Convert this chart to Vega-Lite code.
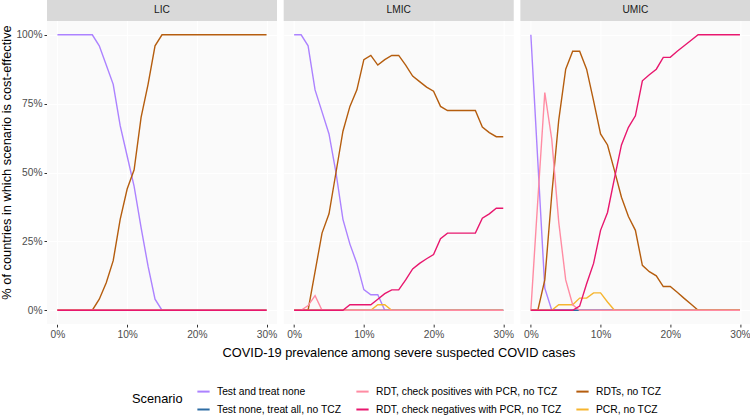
{
 "$schema": "https://vega.github.io/schema/vega-lite/v6.json",
 "padding": {"left": 0, "top": 0, "right": 0, "bottom": 0},
 "background": "white",
 "config": {
  "font": "Liberation Sans",
  "view": {"stroke": null},
  "axis": {"labelColor": "#4d4d4d", "labelFontSize": 10.2, "titleFontSize": 12.8, "titleColor": "#000000", "titleFontWeight": "normal", "tickColor": "#333333", "tickSize": 3, "labelPadding": 2, "domain": false, "gridColor": "#ffffff", "gridWidth": 1.1},
  "legend": {"labelFontSize": 10.3, "labelColor": "#000000", "labelLimit": 400, "titleFontSize": 12.8, "titleFontWeight": "normal", "titleColor": "#000000", "symbolType": "stroke", "symbolStrokeWidth": 2, "symbolSize": 150, "columnPadding": 10, "rowPadding": 5, "labelOffset": 6, "titlePadding": 13}
 },
 "data": {"values": [
   {"income":"LIC","scenario":"Test and treat none","prev":0,"share":1},
   {"income":"LIC","scenario":"Test and treat none","prev":0.05,"share":1},
   {"income":"LIC","scenario":"Test and treat none","prev":0.06,"share":0.96},
   {"income":"LIC","scenario":"Test and treat none","prev":0.07,"share":0.89},
   {"income":"LIC","scenario":"Test and treat none","prev":0.08,"share":0.82},
   {"income":"LIC","scenario":"Test and treat none","prev":0.09,"share":0.67},
   {"income":"LIC","scenario":"Test and treat none","prev":0.10,"share":0.56},
   {"income":"LIC","scenario":"Test and treat none","prev":0.11,"share":0.45},
   {"income":"LIC","scenario":"Test and treat none","prev":0.12,"share":0.30},
   {"income":"LIC","scenario":"Test and treat none","prev":0.13,"share":0.16},
   {"income":"LIC","scenario":"Test and treat none","prev":0.14,"share":0.04},
   {"income":"LIC","scenario":"Test and treat none","prev":0.15,"share":0},
   {"income":"LIC","scenario":"Test and treat none","prev":0.30,"share":0},
   {"income":"LIC","scenario":"Test none, treat all, no TCZ","prev":0,"share":0},
   {"income":"LIC","scenario":"Test none, treat all, no TCZ","prev":0.30,"share":0},
   {"income":"LIC","scenario":"RDTs, no TCZ","prev":0,"share":0},
   {"income":"LIC","scenario":"RDTs, no TCZ","prev":0.05,"share":0},
   {"income":"LIC","scenario":"RDTs, no TCZ","prev":0.06,"share":0.04},
   {"income":"LIC","scenario":"RDTs, no TCZ","prev":0.07,"share":0.10},
   {"income":"LIC","scenario":"RDTs, no TCZ","prev":0.08,"share":0.18},
   {"income":"LIC","scenario":"RDTs, no TCZ","prev":0.09,"share":0.33},
   {"income":"LIC","scenario":"RDTs, no TCZ","prev":0.10,"share":0.44},
   {"income":"LIC","scenario":"RDTs, no TCZ","prev":0.11,"share":0.51},
   {"income":"LIC","scenario":"RDTs, no TCZ","prev":0.12,"share":0.70},
   {"income":"LIC","scenario":"RDTs, no TCZ","prev":0.13,"share":0.82},
   {"income":"LIC","scenario":"RDTs, no TCZ","prev":0.14,"share":0.96},
   {"income":"LIC","scenario":"RDTs, no TCZ","prev":0.15,"share":1},
   {"income":"LIC","scenario":"RDTs, no TCZ","prev":0.30,"share":1},
   {"income":"LIC","scenario":"PCR, no TCZ","prev":0,"share":0},
   {"income":"LIC","scenario":"PCR, no TCZ","prev":0.30,"share":0},
   {"income":"LIC","scenario":"RDT, check positives with PCR, no TCZ","prev":0,"share":0},
   {"income":"LIC","scenario":"RDT, check positives with PCR, no TCZ","prev":0.30,"share":0},
   {"income":"LIC","scenario":"RDT, check negatives with PCR, no TCZ","prev":0,"share":0},
   {"income":"LIC","scenario":"RDT, check negatives with PCR, no TCZ","prev":0.30,"share":0},

   {"income":"LMIC","scenario":"Test and treat none","prev":0,"share":1},
   {"income":"LMIC","scenario":"Test and treat none","prev":0.01,"share":1},
   {"income":"LMIC","scenario":"Test and treat none","prev":0.02,"share":0.96},
   {"income":"LMIC","scenario":"Test and treat none","prev":0.03,"share":0.80},
   {"income":"LMIC","scenario":"Test and treat none","prev":0.04,"share":0.72},
   {"income":"LMIC","scenario":"Test and treat none","prev":0.05,"share":0.64},
   {"income":"LMIC","scenario":"Test and treat none","prev":0.06,"share":0.50},
   {"income":"LMIC","scenario":"Test and treat none","prev":0.07,"share":0.33},
   {"income":"LMIC","scenario":"Test and treat none","prev":0.08,"share":0.24},
   {"income":"LMIC","scenario":"Test and treat none","prev":0.09,"share":0.17},
   {"income":"LMIC","scenario":"Test and treat none","prev":0.10,"share":0.075},
   {"income":"LMIC","scenario":"Test and treat none","prev":0.11,"share":0.056},
   {"income":"LMIC","scenario":"Test and treat none","prev":0.12,"share":0.056},
   {"income":"LMIC","scenario":"Test and treat none","prev":0.13,"share":0},
   {"income":"LMIC","scenario":"Test and treat none","prev":0.30,"share":0},
   {"income":"LMIC","scenario":"Test none, treat all, no TCZ","prev":0,"share":0},
   {"income":"LMIC","scenario":"Test none, treat all, no TCZ","prev":0.30,"share":0},
   {"income":"LMIC","scenario":"RDTs, no TCZ","prev":0,"share":0},
   {"income":"LMIC","scenario":"RDTs, no TCZ","prev":0.02,"share":0},
   {"income":"LMIC","scenario":"RDTs, no TCZ","prev":0.03,"share":0.14},
   {"income":"LMIC","scenario":"RDTs, no TCZ","prev":0.04,"share":0.28},
   {"income":"LMIC","scenario":"RDTs, no TCZ","prev":0.05,"share":0.35},
   {"income":"LMIC","scenario":"RDTs, no TCZ","prev":0.06,"share":0.50},
   {"income":"LMIC","scenario":"RDTs, no TCZ","prev":0.07,"share":0.65},
   {"income":"LMIC","scenario":"RDTs, no TCZ","prev":0.08,"share":0.74},
   {"income":"LMIC","scenario":"RDTs, no TCZ","prev":0.09,"share":0.80},
   {"income":"LMIC","scenario":"RDTs, no TCZ","prev":0.10,"share":0.91},
   {"income":"LMIC","scenario":"RDTs, no TCZ","prev":0.11,"share":0.925},
   {"income":"LMIC","scenario":"RDTs, no TCZ","prev":0.12,"share":0.89},
   {"income":"LMIC","scenario":"RDTs, no TCZ","prev":0.13,"share":0.91},
   {"income":"LMIC","scenario":"RDTs, no TCZ","prev":0.14,"share":0.925},
   {"income":"LMIC","scenario":"RDTs, no TCZ","prev":0.15,"share":0.925},
   {"income":"LMIC","scenario":"RDTs, no TCZ","prev":0.16,"share":0.89},
   {"income":"LMIC","scenario":"RDTs, no TCZ","prev":0.17,"share":0.85},
   {"income":"LMIC","scenario":"RDTs, no TCZ","prev":0.18,"share":0.83},
   {"income":"LMIC","scenario":"RDTs, no TCZ","prev":0.19,"share":0.81},
   {"income":"LMIC","scenario":"RDTs, no TCZ","prev":0.20,"share":0.795},
   {"income":"LMIC","scenario":"RDTs, no TCZ","prev":0.21,"share":0.74},
   {"income":"LMIC","scenario":"RDTs, no TCZ","prev":0.22,"share":0.725},
   {"income":"LMIC","scenario":"RDTs, no TCZ","prev":0.26,"share":0.725},
   {"income":"LMIC","scenario":"RDTs, no TCZ","prev":0.27,"share":0.665},
   {"income":"LMIC","scenario":"RDTs, no TCZ","prev":0.28,"share":0.645},
   {"income":"LMIC","scenario":"RDTs, no TCZ","prev":0.29,"share":0.63},
   {"income":"LMIC","scenario":"RDTs, no TCZ","prev":0.30,"share":0.63},
   {"income":"LMIC","scenario":"PCR, no TCZ","prev":0,"share":0},
   {"income":"LMIC","scenario":"PCR, no TCZ","prev":0.11,"share":0},
   {"income":"LMIC","scenario":"PCR, no TCZ","prev":0.12,"share":0.02},
   {"income":"LMIC","scenario":"PCR, no TCZ","prev":0.13,"share":0.02},
   {"income":"LMIC","scenario":"PCR, no TCZ","prev":0.14,"share":0},
   {"income":"LMIC","scenario":"PCR, no TCZ","prev":0.30,"share":0},
   {"income":"LMIC","scenario":"RDT, check positives with PCR, no TCZ","prev":0,"share":0},
   {"income":"LMIC","scenario":"RDT, check positives with PCR, no TCZ","prev":0.01,"share":0},
   {"income":"LMIC","scenario":"RDT, check positives with PCR, no TCZ","prev":0.02,"share":0.017},
   {"income":"LMIC","scenario":"RDT, check positives with PCR, no TCZ","prev":0.03,"share":0.053},
   {"income":"LMIC","scenario":"RDT, check positives with PCR, no TCZ","prev":0.04,"share":0},
   {"income":"LMIC","scenario":"RDT, check positives with PCR, no TCZ","prev":0.30,"share":0},
   {"income":"LMIC","scenario":"RDT, check negatives with PCR, no TCZ","prev":0,"share":0},
   {"income":"LMIC","scenario":"RDT, check negatives with PCR, no TCZ","prev":0.07,"share":0},
   {"income":"LMIC","scenario":"RDT, check negatives with PCR, no TCZ","prev":0.08,"share":0.02},
   {"income":"LMIC","scenario":"RDT, check negatives with PCR, no TCZ","prev":0.11,"share":0.02},
   {"income":"LMIC","scenario":"RDT, check negatives with PCR, no TCZ","prev":0.12,"share":0.04},
   {"income":"LMIC","scenario":"RDT, check negatives with PCR, no TCZ","prev":0.13,"share":0.06},
   {"income":"LMIC","scenario":"RDT, check negatives with PCR, no TCZ","prev":0.14,"share":0.074},
   {"income":"LMIC","scenario":"RDT, check negatives with PCR, no TCZ","prev":0.15,"share":0.074},
   {"income":"LMIC","scenario":"RDT, check negatives with PCR, no TCZ","prev":0.16,"share":0.11},
   {"income":"LMIC","scenario":"RDT, check negatives with PCR, no TCZ","prev":0.17,"share":0.15},
   {"income":"LMIC","scenario":"RDT, check negatives with PCR, no TCZ","prev":0.18,"share":0.17},
   {"income":"LMIC","scenario":"RDT, check negatives with PCR, no TCZ","prev":0.19,"share":0.187},
   {"income":"LMIC","scenario":"RDT, check negatives with PCR, no TCZ","prev":0.20,"share":0.202},
   {"income":"LMIC","scenario":"RDT, check negatives with PCR, no TCZ","prev":0.21,"share":0.26},
   {"income":"LMIC","scenario":"RDT, check negatives with PCR, no TCZ","prev":0.22,"share":0.28},
   {"income":"LMIC","scenario":"RDT, check negatives with PCR, no TCZ","prev":0.26,"share":0.28},
   {"income":"LMIC","scenario":"RDT, check negatives with PCR, no TCZ","prev":0.27,"share":0.334},
   {"income":"LMIC","scenario":"RDT, check negatives with PCR, no TCZ","prev":0.28,"share":0.35},
   {"income":"LMIC","scenario":"RDT, check negatives with PCR, no TCZ","prev":0.29,"share":0.37},
   {"income":"LMIC","scenario":"RDT, check negatives with PCR, no TCZ","prev":0.30,"share":0.37},

   {"income":"UMIC","scenario":"Test and treat none","prev":0,"share":1},
   {"income":"UMIC","scenario":"Test and treat none","prev":0.01,"share":0.54},
   {"income":"UMIC","scenario":"Test and treat none","prev":0.02,"share":0.08},
   {"income":"UMIC","scenario":"Test and treat none","prev":0.03,"share":0},
   {"income":"UMIC","scenario":"Test and treat none","prev":0.30,"share":0},
   {"income":"UMIC","scenario":"Test none, treat all, no TCZ","prev":0,"share":0},
   {"income":"UMIC","scenario":"Test none, treat all, no TCZ","prev":0.30,"share":0},
   {"income":"UMIC","scenario":"RDTs, no TCZ","prev":0,"share":0},
   {"income":"UMIC","scenario":"RDTs, no TCZ","prev":0.01,"share":0},
   {"income":"UMIC","scenario":"RDTs, no TCZ","prev":0.02,"share":0.11},
   {"income":"UMIC","scenario":"RDTs, no TCZ","prev":0.03,"share":0.42},
   {"income":"UMIC","scenario":"RDTs, no TCZ","prev":0.04,"share":0.69},
   {"income":"UMIC","scenario":"RDTs, no TCZ","prev":0.05,"share":0.875},
   {"income":"UMIC","scenario":"RDTs, no TCZ","prev":0.06,"share":0.94},
   {"income":"UMIC","scenario":"RDTs, no TCZ","prev":0.07,"share":0.94},
   {"income":"UMIC","scenario":"RDTs, no TCZ","prev":0.08,"share":0.875},
   {"income":"UMIC","scenario":"RDTs, no TCZ","prev":0.09,"share":0.76},
   {"income":"UMIC","scenario":"RDTs, no TCZ","prev":0.10,"share":0.64},
   {"income":"UMIC","scenario":"RDTs, no TCZ","prev":0.11,"share":0.60},
   {"income":"UMIC","scenario":"RDTs, no TCZ","prev":0.12,"share":0.507},
   {"income":"UMIC","scenario":"RDTs, no TCZ","prev":0.13,"share":0.41},
   {"income":"UMIC","scenario":"RDTs, no TCZ","prev":0.14,"share":0.34},
   {"income":"UMIC","scenario":"RDTs, no TCZ","prev":0.15,"share":0.29},
   {"income":"UMIC","scenario":"RDTs, no TCZ","prev":0.16,"share":0.163},
   {"income":"UMIC","scenario":"RDTs, no TCZ","prev":0.17,"share":0.14},
   {"income":"UMIC","scenario":"RDTs, no TCZ","prev":0.18,"share":0.125},
   {"income":"UMIC","scenario":"RDTs, no TCZ","prev":0.19,"share":0.086},
   {"income":"UMIC","scenario":"RDTs, no TCZ","prev":0.20,"share":0.086},
   {"income":"UMIC","scenario":"RDTs, no TCZ","prev":0.21,"share":0.065},
   {"income":"UMIC","scenario":"RDTs, no TCZ","prev":0.22,"share":0.043},
   {"income":"UMIC","scenario":"RDTs, no TCZ","prev":0.23,"share":0.022},
   {"income":"UMIC","scenario":"RDTs, no TCZ","prev":0.24,"share":0},
   {"income":"UMIC","scenario":"RDTs, no TCZ","prev":0.30,"share":0},
   {"income":"UMIC","scenario":"PCR, no TCZ","prev":0,"share":0},
   {"income":"UMIC","scenario":"PCR, no TCZ","prev":0.03,"share":0},
   {"income":"UMIC","scenario":"PCR, no TCZ","prev":0.04,"share":0.02},
   {"income":"UMIC","scenario":"PCR, no TCZ","prev":0.06,"share":0.02},
   {"income":"UMIC","scenario":"PCR, no TCZ","prev":0.07,"share":0.044},
   {"income":"UMIC","scenario":"PCR, no TCZ","prev":0.08,"share":0.044},
   {"income":"UMIC","scenario":"PCR, no TCZ","prev":0.09,"share":0.063},
   {"income":"UMIC","scenario":"PCR, no TCZ","prev":0.10,"share":0.063},
   {"income":"UMIC","scenario":"PCR, no TCZ","prev":0.11,"share":0.03},
   {"income":"UMIC","scenario":"PCR, no TCZ","prev":0.12,"share":0},
   {"income":"UMIC","scenario":"PCR, no TCZ","prev":0.30,"share":0},
   {"income":"UMIC","scenario":"RDT, check positives with PCR, no TCZ","prev":0,"share":0},
   {"income":"UMIC","scenario":"RDT, check positives with PCR, no TCZ","prev":0.01,"share":0.40},
   {"income":"UMIC","scenario":"RDT, check positives with PCR, no TCZ","prev":0.02,"share":0.79},
   {"income":"UMIC","scenario":"RDT, check positives with PCR, no TCZ","prev":0.03,"share":0.62},
   {"income":"UMIC","scenario":"RDT, check positives with PCR, no TCZ","prev":0.04,"share":0.32},
   {"income":"UMIC","scenario":"RDT, check positives with PCR, no TCZ","prev":0.05,"share":0.11},
   {"income":"UMIC","scenario":"RDT, check positives with PCR, no TCZ","prev":0.06,"share":0.02},
   {"income":"UMIC","scenario":"RDT, check positives with PCR, no TCZ","prev":0.07,"share":0},
   {"income":"UMIC","scenario":"RDT, check positives with PCR, no TCZ","prev":0.30,"share":0},
   {"income":"UMIC","scenario":"RDT, check negatives with PCR, no TCZ","prev":0,"share":0},
   {"income":"UMIC","scenario":"RDT, check negatives with PCR, no TCZ","prev":0.06,"share":0},
   {"income":"UMIC","scenario":"RDT, check negatives with PCR, no TCZ","prev":0.07,"share":0.015},
   {"income":"UMIC","scenario":"RDT, check negatives with PCR, no TCZ","prev":0.08,"share":0.096},
   {"income":"UMIC","scenario":"RDT, check negatives with PCR, no TCZ","prev":0.09,"share":0.17},
   {"income":"UMIC","scenario":"RDT, check negatives with PCR, no TCZ","prev":0.10,"share":0.29},
   {"income":"UMIC","scenario":"RDT, check negatives with PCR, no TCZ","prev":0.11,"share":0.355},
   {"income":"UMIC","scenario":"RDT, check negatives with PCR, no TCZ","prev":0.12,"share":0.48},
   {"income":"UMIC","scenario":"RDT, check negatives with PCR, no TCZ","prev":0.13,"share":0.60},
   {"income":"UMIC","scenario":"RDT, check negatives with PCR, no TCZ","prev":0.14,"share":0.664},
   {"income":"UMIC","scenario":"RDT, check negatives with PCR, no TCZ","prev":0.15,"share":0.706},
   {"income":"UMIC","scenario":"RDT, check negatives with PCR, no TCZ","prev":0.16,"share":0.833},
   {"income":"UMIC","scenario":"RDT, check negatives with PCR, no TCZ","prev":0.17,"share":0.855},
   {"income":"UMIC","scenario":"RDT, check negatives with PCR, no TCZ","prev":0.18,"share":0.875},
   {"income":"UMIC","scenario":"RDT, check negatives with PCR, no TCZ","prev":0.19,"share":0.918},
   {"income":"UMIC","scenario":"RDT, check negatives with PCR, no TCZ","prev":0.20,"share":0.918},
   {"income":"UMIC","scenario":"RDT, check negatives with PCR, no TCZ","prev":0.21,"share":0.94},
   {"income":"UMIC","scenario":"RDT, check negatives with PCR, no TCZ","prev":0.22,"share":0.96},
   {"income":"UMIC","scenario":"RDT, check negatives with PCR, no TCZ","prev":0.23,"share":0.98},
   {"income":"UMIC","scenario":"RDT, check negatives with PCR, no TCZ","prev":0.24,"share":1},
   {"income":"UMIC","scenario":"RDT, check negatives with PCR, no TCZ","prev":0.30,"share":1}
 ]},
 "spacing": 6.7,
 "facet": {"column": {"field": "income", "type": "nominal", "sort": ["LIC", "LMIC", "UMIC"],
   "header": {"labels": false, "title": "COVID-19 prevalence among severe suspected COVID cases", "titleOrient": "bottom", "titleFontSize": 12.8, "titleFontWeight": "normal", "titleColor": "#000000", "titlePadding": -3}}},
 "spec": {
  "width": 230, "height": 324,
  "view": {"fill": "#fafafa", "stroke": null},
  "layer": [
   {"mark": {"type": "line", "strokeWidth": 1.4, "clip": true},
    "encoding": {
     "x": {"field": "prev", "type": "quantitative", "scale": {"domain": [-0.015, 0.315], "nice": false, "zero": false}, "axis": {"values": [0, 0.1, 0.2, 0.3], "format": ".0%", "title": null}},
     "y": {"field": "share", "type": "quantitative", "scale": {"domain": [-0.05, 1.1263], "nice": false, "zero": false}, "axis": {"values": [0, 0.25, 0.5, 0.75, 1], "format": ".0%", "title": "% of countries in which scenario is cost-effective", "titlePadding": 2}},
     "color": {"field": "scenario", "type": "nominal",
      "scale": {"domain": ["Test and treat none", "RDT, check positives with PCR, no TCZ", "RDTs, no TCZ", "Test none, treat all, no TCZ", "RDT, check negatives with PCR, no TCZ", "PCR, no TCZ"], "range": ["#AC82FF", "#FF8CA3", "#B55D0E", "#2E6DA4", "#E8176E", "#F6B52F"]},
      "legend": {"title": "Scenario", "orient": "none", "legendX": 85, "legendY": 384, "direction": "horizontal", "columns": 3, "titleOrient": "left", "titleAnchor": "middle", "titleBaseline": "middle"}}
    }},
   {"transform": [{"aggregate": [{"op": "count", "as": "n"}], "groupby": ["income"]}],
    "mark": {"type": "rect", "color": "#d9d9d9"},
    "encoding": {
     "x": {"datum": -0.015, "type": "quantitative", "scale": {"domain": [-0.015, 0.315], "nice": false, "zero": false}, "axis": {"values": [0, 0.1, 0.2, 0.3], "format": ".0%", "title": null}},
     "x2": {"datum": 0.315},
     "y": {"datum": 1.05, "type": "quantitative", "scale": {"domain": [-0.05, 1.1263], "nice": false, "zero": false}, "axis": {"values": [0, 0.25, 0.5, 0.75, 1], "format": ".0%", "title": "% of countries in which scenario is cost-effective", "titlePadding": 2}},
     "y2": {"datum": 1.1263}
    }},
   {"transform": [{"aggregate": [{"op": "count", "as": "n"}], "groupby": ["income"]}],
    "mark": {"type": "text", "fontSize": 10.2, "color": "#1a1a1a", "baseline": "middle", "align": "center"},
    "encoding": {
     "x": {"datum": 0.15, "type": "quantitative", "scale": {"domain": [-0.015, 0.315], "nice": false, "zero": false}, "axis": {"values": [0, 0.1, 0.2, 0.3], "format": ".0%", "title": null}},
     "y": {"datum": 1.0882, "type": "quantitative", "scale": {"domain": [-0.05, 1.1263], "nice": false, "zero": false}, "axis": {"values": [0, 0.25, 0.5, 0.75, 1], "format": ".0%", "title": "% of countries in which scenario is cost-effective", "titlePadding": 2}},
     "text": {"field": "income"}
    }}
  ]
 }
}
